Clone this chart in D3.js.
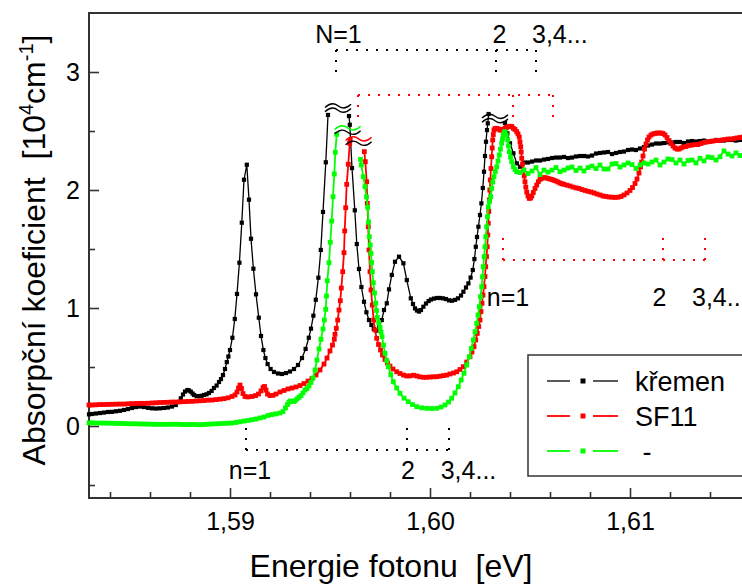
<!DOCTYPE html>
<html>
<head>
<meta charset="utf-8">
<script src="https://cdn.jsdelivr.net/npm/d3@7"></script>
<style>
  html, body { margin: 0; padding: 0; background: #fff; }
  svg { display: block; font-family: "Liberation Sans", Arial, sans-serif; }
</style>
</head>
<body>
<svg id="chart" width="742" height="585"></svg>
<script>
// Absorption spectra [energy eV, coefficient 10^4 cm^-1]; null marks a broken (off-scale) peak
const kremen = [
  [1.58295,0.099],[1.5831,0.102],[1.5833,0.106],[1.5835,0.110],[1.5837,0.114],[1.5839,0.119],[1.5841,0.120],[1.5843,0.125],
  [1.5845,0.129],[1.5847,0.136],[1.5849,0.144],[1.5851,0.153],[1.5853,0.161],[1.5855,0.165],[1.5857,0.161],[1.5859,0.154],
  [1.5861,0.150],[1.5863,0.148],[1.5865,0.150],[1.5867,0.153],[1.5869,0.157],[1.5871,0.165],[1.58729,0.178],[1.5874,0.203],
  [1.58754,0.235],[1.58765,0.267],[1.58775,0.292],[1.58787,0.305],[1.58795,0.301],[1.58804,0.291],[1.58813,0.275],[1.5882,0.263],
  [1.58833,0.254],[1.58845,0.253],[1.58858,0.256],[1.5887,0.263],[1.58883,0.269],[1.58895,0.280],[1.58908,0.297],[1.5892,0.322],
  [1.58933,0.343],[1.58945,0.373],[1.58955,0.398],[1.58965,0.432],[1.58975,0.483],[1.58984,0.542],[1.58992,0.589],[1.59,0.644],
  [1.59012,0.748],[1.59024,0.907],[1.59035,1.119],[1.59047,1.384],[1.59059,1.723],[1.5907,2.087],[1.59084,2.214],[1.59095,1.918],
  [1.59105,1.587],[1.59117,1.333],[1.5913,1.116],[1.59144,0.918],[1.59155,0.763],[1.59167,0.644],[1.59177,0.576],[1.59188,0.525],
  [1.59203,0.483],[1.5922,0.458],[1.5924,0.445],[1.5926,0.441],[1.5928,0.449],[1.593,0.462],[1.5932,0.483],[1.5934,0.517],
  [1.5936,0.576],[1.59378,0.653],[1.59394,0.748],[1.59405,0.825],[1.59417,0.935],[1.59429,1.070],[1.59442,1.257],[1.59454,1.492],
  [1.59465,1.814],[1.59479,2.235],[1.5949,2.636],[1.5952,null],
  [1.59595,2.627],[1.59599,2.553],[1.5961,2.186],[1.59624,1.828],[1.59634,1.542],[1.59645,1.331],[1.59657,1.178],[1.5967,1.053],
  [1.59682,0.964],[1.59695,0.898],[1.59707,0.856],[1.59719,0.822],[1.59732,0.808],[1.59745,0.836],[1.59759,0.898],[1.5977,0.983],
  [1.59784,1.040],[1.59795,1.158],[1.59809,1.280],[1.59825,1.392],[1.59845,1.435],[1.59867,1.379],[1.59884,1.237],[1.59904,1.082],
  [1.59915,1.034],[1.59925,0.997],[1.59935,0.979],[1.59945,0.970],[1.59955,0.983],[1.59967,1.011],[1.5998,1.038],[1.59993,1.059],
  [1.60005,1.072],[1.6002,1.080],[1.60035,1.085],[1.6005,1.085],[1.60065,1.082],[1.6008,1.076],[1.60095,1.065],[1.6011,1.062],
  [1.60125,1.069],[1.6014,1.082],[1.60155,1.106],[1.60167,1.138],[1.6018,1.174],[1.60192,1.209],[1.60203,1.258],[1.60214,1.322],
  [1.60222,1.415],[1.60229,1.519],[1.60235,1.602],[1.60242,1.689],[1.6025,1.788],[1.60257,1.887],[1.60264,2.017],[1.6027,2.155],
  [1.60275,2.288],[1.6028,2.409],[1.60285,2.508],[1.60289,2.565],[1.60293,2.644],[1.6033,null],
  [1.60375,2.568],[1.60387,2.480],[1.604,2.396],[1.60417,2.311],[1.60434,2.226],[1.6045,2.197],[1.6047,2.233],[1.6049,2.233],
  [1.6051,2.241],[1.6053,2.250],[1.6055,2.250],[1.6057,2.258],[1.6059,2.263],[1.6061,2.271],[1.6063,2.275],[1.6065,2.275],
  [1.6067,2.280],[1.6069,2.271],[1.6071,2.275],[1.6073,2.284],[1.6075,2.288],[1.6077,2.288],[1.6079,2.284],[1.6081,2.292],
  [1.6083,2.309],[1.6085,2.314],[1.6087,2.318],[1.6089,2.322],[1.6091,2.305],[1.6093,2.314],[1.6095,2.322],[1.6097,2.326],
  [1.6099,2.339],[1.6101,2.343],[1.6103,2.339],[1.6105,2.352],[1.6107,2.364],[1.6109,2.377],[1.6111,2.385],[1.6113,2.394],
  [1.6115,2.394],[1.6117,2.398],[1.6119,2.403],[1.6121,2.403],[1.6123,2.407],[1.6125,2.407],[1.6127,2.398],[1.6129,2.411],
  [1.6131,2.415],[1.6133,2.411],[1.6135,2.415],[1.6137,2.419],[1.6139,2.411],[1.6141,2.415],[1.6143,2.424],[1.6145,2.419],
  [1.6147,2.419],[1.6149,2.424],[1.6151,2.424],[1.6153,2.419],[1.6155,2.424],[1.6157,2.424]
];

const sf11 = [
  [1.58295,0.178],[1.5831,0.178],[1.5833,0.180],[1.5835,0.182],[1.5837,0.182],[1.5839,0.183],[1.5841,0.184],[1.5843,0.185],
  [1.5845,0.186],[1.5847,0.186],[1.5849,0.188],[1.5851,0.190],[1.5853,0.191],[1.5855,0.192],[1.5857,0.192],[1.5859,0.193],
  [1.5861,0.195],[1.5863,0.197],[1.5865,0.199],[1.5867,0.200],[1.5869,0.201],[1.5871,0.203],[1.5873,0.203],[1.5875,0.205],
  [1.5877,0.207],[1.5879,0.208],[1.5881,0.209],[1.5883,0.212],[1.5885,0.214],[1.5887,0.216],[1.5889,0.219],[1.5891,0.220],
  [1.5893,0.224],[1.5895,0.227],[1.5897,0.232],[1.5899,0.239],[1.5901,0.250],[1.59025,0.263],[1.59035,0.288],[1.590425,0.322],
  [1.5905,0.347],[1.590575,0.318],[1.59065,0.275],[1.59075,0.250],[1.5909,0.246],[1.5911,0.250],[1.591275,0.258],[1.591425,0.271],
  [1.59155,0.297],[1.59165,0.326],[1.591725,0.335],[1.5918,0.305],[1.591875,0.271],[1.592,0.258],[1.59215,0.260],[1.5923,0.271],
  [1.5925,0.288],[1.5927,0.301],[1.5929,0.314],[1.5931,0.322],[1.5933,0.331],[1.5935,0.343],[1.5937,0.360],[1.5939,0.381],
  [1.5941,0.403],[1.5943,0.432],[1.5945,0.475],[1.5947,0.525],[1.59485,0.576],[1.595,0.636],[1.595125,0.686],[1.595215,0.735],
  [1.59525,0.777],[1.595315,0.828],[1.595385,0.898],[1.59545,0.983],[1.595515,1.062],[1.595565,1.169],[1.595635,1.308],[1.5957,1.469],
  [1.595735,1.653],[1.595785,1.850],[1.595835,2.048],[1.595915,2.218],[1.595985,2.396],[1.59601,2.424],[1.5962,null],
  [1.596715,2.325],[1.596765,2.240],[1.596835,2.070],[1.596865,1.887],[1.596915,1.689],[1.59695,1.492],[1.597,1.308],[1.59705,1.153],
  [1.597115,1.025],[1.597185,0.898],[1.59725,0.814],[1.597335,0.743],[1.597425,0.691],[1.597525,0.644],[1.597625,0.602],[1.59775,0.564],
  [1.597875,0.534],[1.598,0.508],[1.59815,0.483],[1.598335,0.460],[1.5985,0.445],[1.598675,0.432],[1.598835,0.424],[1.599,0.425],
  [1.599175,0.430],[1.599335,0.424],[1.5995,0.417],[1.599675,0.413],[1.599835,0.413],[1.6,0.415],[1.600175,0.417],[1.600335,0.418],
  [1.6005,0.422],[1.600675,0.427],[1.600835,0.432],[1.601,0.441],[1.601175,0.449],[1.601335,0.460],[1.6015,0.479],[1.601665,0.503],
  [1.601835,0.542],[1.602,0.587],[1.6021,0.627],[1.6022,0.672],[1.602285,0.729],[1.602365,0.785],[1.602435,0.843],[1.6025,0.898],
  [1.60255,0.970],[1.6026,1.040],[1.60265,1.110],[1.6027,1.181],[1.60275,1.267],[1.602785,1.350],[1.602825,1.436],[1.602865,1.519],
  [1.60289,1.619],[1.602915,1.718],[1.60294,1.818],[1.602965,1.915],[1.60299,2.000],[1.603015,2.085],[1.60305,2.182],[1.603085,2.282],
  [1.60311,2.356],[1.603135,2.424],[1.603165,2.470],[1.6032,2.508],[1.60325,2.521],[1.603335,2.523],[1.603425,2.517],[1.6035,2.508],
  [1.603585,2.508],[1.603665,2.514],[1.60375,2.525],[1.603835,2.530],[1.603915,2.538],[1.604,2.540],[1.604085,2.538],[1.604165,2.523],
  [1.60425,2.513],[1.604335,2.494],[1.6044,2.475],[1.604465,2.449],[1.6045,2.407],[1.604535,2.367],[1.60456,2.322],[1.604585,2.269],
  [1.604625,2.220],[1.604665,2.169],[1.60471,2.119],[1.60475,2.070],[1.60479,2.025],[1.604835,1.983],[1.6049,1.949],[1.604965,1.929],
  [1.605025,1.932],[1.60509,1.949],[1.605165,1.979],[1.60525,2.013],[1.605335,2.042],[1.605415,2.070],[1.6055,2.089],[1.6056,2.099],
  [1.6057,2.106],[1.6058,2.103],[1.6059,2.098],[1.606,2.093],[1.6061,2.089],[1.6062,2.082],[1.6063,2.076],[1.6064,2.068],
  [1.6065,2.059],[1.6066,2.053],[1.6067,2.048],[1.60685,2.041],[1.607,2.034],[1.60715,2.025],[1.6073,2.018],[1.60745,2.013],
  [1.6076,2.004],[1.60775,1.996],[1.6079,1.989],[1.60805,1.983],[1.6082,1.975],[1.60835,1.966],[1.6085,1.958],[1.60865,1.949],
  [1.6088,1.945],[1.60895,1.941],[1.6091,1.939],[1.60925,1.937],[1.6094,1.939],[1.60955,1.945],[1.6097,1.958],[1.60985,1.975],
  [1.61,1.996],[1.610125,2.021],[1.61025,2.055],[1.61035,2.093],[1.61045,2.144],[1.610525,2.195],[1.610585,2.237],[1.61065,2.288],
  [1.610725,2.347],[1.6108,2.390],[1.610875,2.424],[1.61095,2.449],[1.61105,2.466],[1.61115,2.475],[1.61125,2.479],[1.61135,2.483],
  [1.61145,2.483],[1.61155,2.483],[1.61165,2.479],[1.61175,2.466],[1.61185,2.445],[1.61195,2.419],[1.61205,2.394],[1.61215,2.373],
  [1.61225,2.356],[1.61235,2.347],[1.61245,2.347],[1.61255,2.356],[1.61265,2.364],[1.6128,2.369],[1.61295,2.377],[1.6131,2.381],
  [1.61325,2.385],[1.6134,2.385],[1.61355,2.394],[1.6137,2.403],[1.61385,2.407],[1.614,2.411],[1.61415,2.415],[1.6143,2.419],
  [1.61445,2.419],[1.6146,2.424],[1.61475,2.428],[1.6149,2.432],[1.61505,2.432],[1.6152,2.436],[1.61535,2.441],[1.6155,2.445],
  [1.61565,2.449]
];

const thirdSample = [
  [1.58295,0.027],[1.5831,0.027],[1.5833,0.025],[1.5835,0.025],[1.5837,0.025],[1.5839,0.024],[1.5841,0.023],[1.5843,0.023],
  [1.5845,0.022],[1.5847,0.021],[1.5849,0.020],[1.5851,0.019],[1.5853,0.019],[1.5855,0.017],[1.5857,0.017],[1.5859,0.016],
  [1.5861,0.015],[1.5863,0.014],[1.5865,0.014],[1.5867,0.014],[1.5869,0.014],[1.5871,0.015],[1.5873,0.015],[1.5875,0.014],
  [1.5877,0.012],[1.5879,0.012],[1.5881,0.013],[1.5883,0.012],[1.5885,0.011],[1.5887,0.013],[1.5889,0.015],[1.5891,0.017],
  [1.5893,0.019],[1.5895,0.020],[1.5897,0.022],[1.5899,0.024],[1.5901,0.025],[1.5903,0.030],[1.5905,0.036],[1.5907,0.042],
  [1.5909,0.047],[1.5911,0.053],[1.5913,0.059],[1.5915,0.068],[1.5917,0.076],[1.5919,0.089],[1.5921,0.097],[1.5923,0.103],
  [1.5925,0.110],[1.59265,0.123],[1.592775,0.153],[1.592875,0.182],[1.59295,0.203],[1.593025,0.212],[1.5931,0.209],[1.593175,0.208],
  [1.59325,0.214],[1.59335,0.229],[1.59345,0.242],[1.59355,0.258],[1.59365,0.280],[1.59375,0.305],[1.59385,0.318],[1.59395,0.339],
  [1.59405,0.369],[1.59415,0.407],[1.59425,0.475],[1.59435,0.559],[1.59445,0.653],[1.59455,0.735],[1.59465,0.822],[1.594715,0.898],
  [1.594785,0.989],[1.594825,1.102],[1.594865,1.231],[1.59495,1.384],[1.595015,1.557],[1.595085,1.737],[1.59515,1.943],[1.595215,2.136],
  [1.595265,2.319],[1.595335,2.472],[1.5955,null],
  [1.596525,2.260],[1.596565,2.212],[1.596665,2.113],[1.59675,2.028],[1.596825,1.941],[1.596885,1.853],[1.596925,1.729],[1.596965,1.604],
  [1.59701,1.534],[1.59705,1.464],[1.597085,1.386],[1.597115,1.308],[1.597165,1.214],[1.597225,1.127],[1.597285,1.040],[1.597325,0.979],
  [1.597365,0.921],[1.597435,0.877],[1.5975,0.836],[1.59755,0.797],[1.5976,0.758],[1.597675,0.686],[1.59775,0.616],[1.597835,0.555],
  [1.597915,0.503],[1.59804,0.436],[1.598165,0.375],[1.598335,0.322],[1.5985,0.277],[1.5987,0.237],[1.598915,0.206],[1.599125,0.182],
  [1.599335,0.164],[1.599585,0.154],[1.599835,0.150],[1.600085,0.148],[1.600335,0.150],[1.60055,0.161],[1.60075,0.178],[1.600925,0.203],
  [1.601085,0.235],[1.60125,0.280],[1.601415,0.333],[1.60156,0.390],[1.6017,0.447],[1.601835,0.517],[1.601965,0.587],[1.602065,0.658],
  [1.602165,0.729],[1.60225,0.799],[1.602335,0.870],[1.6024,0.941],[1.602465,1.011],[1.602525,1.096],[1.602585,1.181],[1.602625,1.265],
  [1.602665,1.350],[1.60271,1.435],[1.60275,1.519],[1.60279,1.604],[1.602835,1.689],[1.602875,1.774],[1.602915,1.858],[1.602975,1.902],
  [1.603035,1.943],[1.603085,2.014],[1.60314,2.068],[1.6032,2.113],[1.603265,2.157],[1.603335,2.197],[1.6034,2.246],[1.603465,2.297],
  [1.603525,2.347],[1.603585,2.396],[1.603625,2.432],[1.603665,2.466],[1.60371,2.487],[1.60375,2.494],[1.603815,2.466],[1.603885,2.424],
  [1.603925,2.373],[1.603965,2.324],[1.604025,2.280],[1.604085,2.240],[1.604165,2.197],[1.60425,2.174],[1.604335,2.155],
  [1.6045,2.148],[1.6047,2.169],[1.6049,2.140],[1.6051,2.161],[1.6053,2.190],[1.6055,2.131],[1.6057,2.169],[1.6059,2.152],
  [1.6061,2.169],[1.6063,2.190],[1.6065,2.155],[1.6067,2.169],[1.6069,2.186],[1.6071,2.195],[1.6073,2.165],[1.6075,2.186],
  [1.6077,2.161],[1.6079,2.190],[1.6081,2.203],[1.6083,2.182],[1.6085,2.212],[1.6087,2.178],[1.6089,2.178],[1.6091,2.220],
  [1.6093,2.224],[1.6095,2.195],[1.6097,2.212],[1.6099,2.229],[1.6101,2.216],[1.6103,2.182],[1.6105,2.212],[1.6107,2.229],
  [1.6109,2.220],[1.6111,2.237],[1.6113,2.254],[1.6115,2.212],[1.6117,2.237],[1.6119,2.263],[1.6121,2.258],[1.6123,2.229],
  [1.6125,2.254],[1.6127,2.220],[1.6129,2.250],[1.6131,2.254],[1.6133,2.229],[1.6135,2.269],[1.6137,2.246],[1.6139,2.280],
  [1.6141,2.275],[1.6143,2.254],[1.6145,2.282],[1.6147,2.331],[1.6149,2.305],[1.6151,2.288],[1.6153,2.314],[1.6155,2.292],
  [1.6157,2.297]
];

const seriesNames = ["křemen", "SF11", "-"];
const seriesColors = ["#000000", "#ff0000", "#00ff00"];

const xMajorTicks = [1.59, 1.60, 1.61];
const xMinorTicks = [1.584, 1.586, 1.588, 1.592, 1.594, 1.596, 1.598, 1.602, 1.604, 1.606, 1.608, 1.612, 1.614];
const yMajorTicks = [0, 1, 2, 3];
const yMinorTicks = [-0.5, 0.5, 1.5, 2.5];

// Exciton level brackets: horizontal dotted line at lineA, drops at each level down/up to tipA
const levelBrackets = [
  { color: "#000000", lineA: 3.186, tipA: 3.0,   levels: [1.5953, 1.6033, 1.6053] },
  { color: "#ff0000", lineA: 2.805, tipA: 2.619, levels: [1.5964, 1.60415, 1.60615] },
  { color: "#ff0000", lineA: 1.407, tipA: 1.619, levels: [1.60365, 1.61165, 1.61375] },
  { color: "#000000", lineA: -0.203, tipA: 0.025, levels: [1.5908, 1.59885, 1.60095] }
];
const levelLabels = [
  { t: "N=1",    e: 1.595425, a: 3.245,  anchor: "middle" },
  { t: "2",      e: 1.603475, a: 3.245,  anchor: "middle" },
  { t: "3,4...", e: 1.6051,   a: 3.245,  anchor: "start" },
  { t: "n=1",    e: 1.6039,   a: 1.021,  anchor: "middle" },
  { t: "2",      e: 1.611475, a: 1.021,  anchor: "middle" },
  { t: "3,4...", e: 1.6131,   a: 1.021,  anchor: "start" },
  { t: "n=1",    e: 1.591,    a: -0.445, anchor: "middle" },
  { t: "2",      e: 1.5989,   a: -0.445, anchor: "middle" },
  { t: "3,4...", e: 1.600535, a: -0.445, anchor: "start" }
];

// "≈" marks where peaks run off scale
const breakMarks = [
  { e: 1.5954,  a: 2.695, top: "#000000", bottom: "#000000" },
  { e: 1.59588, a: 2.508, top: "#00ff00", bottom: "#000000" },
  { e: 1.59643, a: 2.415, top: "#ff0000", bottom: "#000000" },
  { e: 1.60325, a: 2.606, top: "#000000", bottom: "#000000" }
];

const svg = d3.select("#chart");
const plotL = 89, plotT = 13, plotB = 498, plotR = 760;
const frameColor = "#333333";

const x = d3.scaleLinear().domain([1.58295, 1.6165]).range([plotL, plotR]);
const y = d3.scaleLinear().domain([-0.61, 3.5]).range([plotB, plotT]);

const fmt = d3.formatLocale({ decimal: ",", thousands: " ", grouping: [3], currency: ["", ""] }).format(".2f");

// Axes (ticks point inward)
const gxMinor = svg.append("g").attr("transform", `translate(0,${plotB})`)
  .call(d3.axisBottom(x).tickValues(xMinorTicks).tickSize(-6).tickFormat(""));
const gx = svg.append("g").attr("transform", `translate(0,${plotB})`)
  .call(d3.axisBottom(x).tickValues(xMajorTicks).tickSize(-10).tickPadding(14).tickFormat(fmt));
const gyMinor = svg.append("g").attr("transform", `translate(${plotL},0)`)
  .call(d3.axisLeft(y).tickValues(yMinorTicks).tickSize(-6).tickFormat(""));
const gy = svg.append("g").attr("transform", `translate(${plotL},0)`)
  .call(d3.axisLeft(y).tickValues(yMajorTicks).tickSize(-10).tickPadding(9).tickFormat(d3.format("d")));

[gxMinor, gx, gyMinor, gy].forEach(g => {
  g.select(".domain").remove();
  g.selectAll(".tick line").attr("stroke", frameColor).attr("stroke-width", 1.6);
  g.selectAll(".tick text").attr("fill", "#000").style("font-size", "25px")
    .style("font-family", '"Liberation Sans", Arial, sans-serif');
});

// Frame: left, top, bottom
svg.append("path")
  .attr("d", `M${plotR},${plotT}H${plotL}V${plotB}H${plotR}`)
  .attr("fill", "none").attr("stroke", frameColor).attr("stroke-width", 2);

// Level brackets
const dotted = svg.append("g").attr("fill", "none").attr("stroke-width", 2).attr("stroke-dasharray", "2 8");
levelBrackets.forEach(b => {
  const yl = y(b.lineA), yTip = y(b.tipA);
  dotted.append("line")
    .attr("x1", x(b.levels[0])).attr("x2", x(b.levels[b.levels.length - 1]))
    .attr("y1", yl).attr("y2", yl).attr("stroke", b.color);
  b.levels.forEach(l => {
    dotted.append("line")
      .attr("x1", x(l)).attr("x2", x(l)).attr("y1", yl).attr("y2", yTip).attr("stroke", b.color);
  });
});
svg.append("g").selectAll("text").data(levelLabels).join("text")
  .attr("x", d => x(d.e)).attr("y", d => y(d.a))
  .attr("text-anchor", d => d.anchor)
  .style("font-size", "25px").attr("fill", "#000")
  .text(d => d.t);

// Series
const series = [kremen, sf11, thirdSample];
const lineWidths = [1.3, 1.8, 1.8];
const markerSizes = [4.2, 4.8, 4.8];
const line = d3.line().defined(d => d[1] !== null).x(d => x(d[0])).y(d => y(d[1]));

series.forEach((data, i) => {
  const g = svg.append("g");
  g.append("path").datum(data).attr("d", line)
    .attr("fill", "none").attr("stroke", seriesColors[i]).attr("stroke-width", lineWidths[i]);
  const s = markerSizes[i];
  g.selectAll("rect").data(data.filter(d => d[1] !== null)).join("rect")
    .attr("x", d => x(d[0]) - s / 2).attr("y", d => y(d[1]) - s / 2)
    .attr("width", s).attr("height", s).attr("fill", seriesColors[i]);
});

// Break marks
const wave = "M-13,1.6 C-8,-3.2 -4,-3.2 0,0 C4,3.2 8,3.2 13,-1.6";
breakMarks.forEach(b => {
  const g = svg.append("g").attr("transform", `translate(${x(b.e)},${y(b.a)})`);
  g.append("path").attr("d", wave).attr("transform", "translate(0,-2.2)")
    .attr("fill", "none").attr("stroke", b.top).attr("stroke-width", 1.4);
  g.append("path").attr("d", wave).attr("transform", "translate(0,2.2)")
    .attr("fill", "none").attr("stroke", b.bottom).attr("stroke-width", 1.4);
});

// Legend
const legend = svg.append("g");
legend.append("rect").attr("x", 528).attr("y", 355).attr("width", 260).attr("height", 121)
  .attr("fill", "#fff").attr("stroke", frameColor).attr("stroke-width", 1.5);
seriesNames.forEach((name, i) => {
  const ly = 381 + i * 35;
  legend.append("line").attr("x1", 547).attr("x2", 570).attr("y1", ly).attr("y2", ly)
    .attr("stroke", seriesColors[i]).attr("stroke-width", lineWidths[i]);
  legend.append("line").attr("x1", 593).attr("x2", 618).attr("y1", ly).attr("y2", ly)
    .attr("stroke", seriesColors[i]).attr("stroke-width", lineWidths[i]);
  legend.append("rect").attr("x", 583 - 2.5).attr("y", ly - 2.5).attr("width", 5).attr("height", 5)
    .attr("fill", seriesColors[i]);
  legend.append("text").attr("x", 635).attr("y", ly + 10)
    .style("font-size", "27px").style("white-space", "pre").attr("fill", "#000")
    .text(name === "-" ? " -" : name);
});

// Axis titles
svg.append("text").attr("x", 391).attr("y", 577).attr("text-anchor", "middle")
  .style("font-size", "32px").style("white-space", "pre").attr("fill", "#000")
  .text("Energie fotonu  [eV]");

const yTitle = svg.append("text").attr("transform", "translate(45,250) rotate(-90)")
  .attr("text-anchor", "middle").style("font-size", "32px").style("white-space", "pre").attr("fill", "#000");
yTitle.append("tspan").text("Absorpční koeficient  [10");
yTitle.append("tspan").attr("dy", -12).style("font-size", "20px").text("4");
yTitle.append("tspan").attr("dy", 12).text("cm");
yTitle.append("tspan").attr("dy", -12).style("font-size", "20px").text("-1");
yTitle.append("tspan").attr("dy", 12).text("]");
</script>
</body>
</html>
